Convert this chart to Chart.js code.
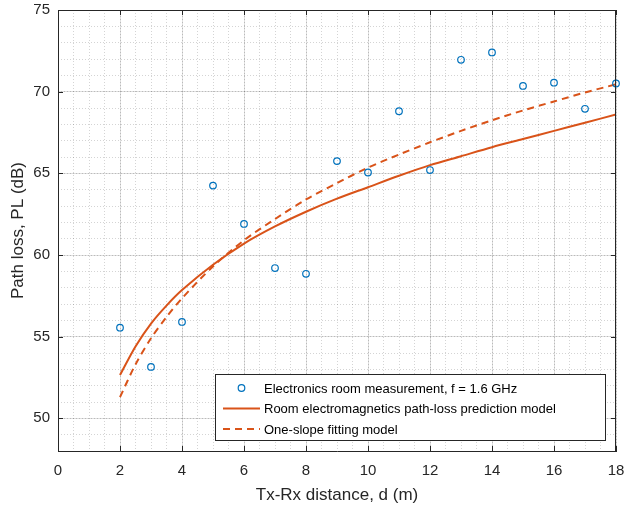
<!DOCTYPE html>
<html>
<head>
<meta charset="utf-8">
<script src="https://cdn.jsdelivr.net/npm/chart.js@4.4.1/dist/chart.umd.min.js"></script>
<style>
  body { margin: 0; background: #fff; }
  #wrap { width: 627px; height: 510px; }
</style>
</head>
<body>
<div id="wrap"><canvas id="plChart" width="627" height="510"></canvas></div>
<script>
// measured path loss, one point per metre
const measD = [2, 3, 4, 5, 6, 7, 8, 9, 10, 11, 12, 13, 14, 15, 16, 17, 18];
const measPL = [55.55, 53.15, 55.9, 64.25, 61.9, 59.2, 58.85, 65.75, 65.05, 68.8, 65.2, 71.95, 72.4, 70.35, 70.55, 68.95, 70.5];

// room electromagnetics prediction model (solid)
const roomD = [2, 2.5, 3, 3.5, 4, 5, 6, 7, 8, 9, 10, 11, 12, 13, 14, 15, 16, 17, 18];
const roomPL = [52.65, 54.4, 55.8, 56.9, 57.85, 59.4, 60.7, 61.75, 62.65, 63.45, 64.15, 64.85, 65.5, 66.05, 66.6, 67.1, 67.6, 68.1, 68.6];

// one-slope fitting model (dashed)
const fitD = [2, 2.5, 3, 3.5, 4, 5, 6, 7, 8, 9, 10, 11, 12, 13, 14, 15, 16, 17, 18];
const fitPL = [51.3, 53.3, 54.9, 56.2, 57.35, 59.3, 60.9, 62.2, 63.4, 64.4, 65.35, 66.15, 66.9, 67.6, 68.25, 68.85, 69.4, 69.95, 70.45];

const seriesLabels = [
  "Electronics room measurement, f = 1.6 GHz",
  "Room electromagnetics path-loss prediction model",
  "One-slope fitting model"
];
const xTitle = "Tx-Rx distance, d (m)";
const yTitle = "Path loss, PL (dB)";

const BLUE = "#0072BD";
const ORANGE = "#D95319";
const AXIS = "#262626";
const FONT = "'Liberation Sans', Arial, sans-serif";

const toXY = (xs, ys) => xs.map((x, i) => ({ x: x, y: ys[i] }));

// no extra room for tick label overhang, the plot box is placed by layout padding
const noOverhang = s => {
  s.paddingTop = 0; s.paddingBottom = 0; s.paddingLeft = 0; s.paddingRight = 0;
};

// top/right box lines and inward tick marks, like a matlab axes box
const boxPlugin = {
  id: "box",
  afterDraw(chart) {
    const { ctx, chartArea: a, scales } = chart;
    ctx.save();
    ctx.strokeStyle = AXIS;
    ctx.lineWidth = 1;
    ctx.beginPath();
    ctx.moveTo(a.left, a.top + 0.5);
    ctx.lineTo(a.right, a.top + 0.5);
    ctx.moveTo(a.right - 0.5, a.top);
    ctx.lineTo(a.right - 0.5, a.bottom);
    const len = 5;
    scales.x.ticks.forEach(t => {
      const px = Math.round(scales.x.getPixelForValue(t.value)) + 0.5;
      ctx.moveTo(px, a.bottom); ctx.lineTo(px, a.bottom - len);
      ctx.moveTo(px, a.top); ctx.lineTo(px, a.top + len);
    });
    scales.y.ticks.forEach(t => {
      const py = Math.round(scales.y.getPixelForValue(t.value)) + 0.5;
      ctx.moveTo(a.left, py); ctx.lineTo(a.left + len, py);
      ctx.moveTo(a.right, py); ctx.lineTo(a.right - len, py);
    });
    ctx.stroke();
    ctx.restore();
  }
};

// legend box drawn inside the plot, lower right
const legendPlugin = {
  id: "insideLegend",
  afterDraw(chart) {
    const { ctx } = chart;
    const bx = 215, by = 374, bw = 390, bh = 66;
    ctx.save();
    ctx.fillStyle = "#fff";
    ctx.fillRect(bx, by, bw, bh);
    ctx.strokeStyle = AXIS;
    ctx.lineWidth = 1;
    ctx.strokeRect(bx + 0.5, by + 0.5, bw, bh);
    ctx.font = "13px " + FONT;
    ctx.textBaseline = "middle";
    const rows = [388, 408.5, 429];
    chart.data.datasets.forEach((ds, i) => {
      const y = rows[i];
      if (i === 0) {
        ctx.strokeStyle = BLUE;
        ctx.lineWidth = 1.2;
        ctx.beginPath();
        ctx.arc(241.5, y, 3.3, 0, Math.PI * 2);
        ctx.stroke();
      } else {
        ctx.strokeStyle = ORANGE;
        ctx.lineWidth = 2;
        ctx.setLineDash(ds.borderDash || []);
        ctx.beginPath();
        ctx.moveTo(223, y);
        ctx.lineTo(260, y);
        ctx.stroke();
        ctx.setLineDash([]);
      }
      ctx.fillStyle = "#000";
      ctx.fillText(ds.label, 264, y + 1);
    });
    ctx.restore();
  }
};

new Chart(document.getElementById("plChart"), {
  type: "scatter",
  data: {
    datasets: [
      {
        label: seriesLabels[0],
        data: toXY(measD, measPL),
        showLine: false,
        pointStyle: "circle",
        pointRadius: 3.3,
        pointBorderWidth: 1.2,
        pointBorderColor: BLUE,
        pointBackgroundColor: "rgba(0,0,0,0)",
        clip: false,
        order: 0
      },
      {
        label: seriesLabels[1],
        data: toXY(roomD, roomPL),
        showLine: true,
        borderColor: ORANGE,
        borderWidth: 2,
        pointRadius: 0,
        tension: 0.3,
        order: 1
      },
      {
        label: seriesLabels[2],
        data: toXY(fitD, fitPL),
        showLine: true,
        borderColor: ORANGE,
        borderWidth: 2,
        borderDash: [7, 5],
        pointRadius: 0,
        tension: 0.3,
        order: 2
      }
    ]
  },
  options: {
    responsive: false,
    animation: false,
    layout: { padding: { top: 10, right: 11, left: 0, bottom: 0 } },
    plugins: {
      legend: { display: false },
      tooltip: { enabled: false }
    },
    scales: {
      xMinor: {
        type: "linear", position: "bottom", min: 0, max: 18,
        ticks: { display: false, stepSize: 0.5 },
        grid: { color: "rgba(38,38,38,0.2)", drawTicks: false },
        border: { display: false, dash: [1, 2] },
        afterFit: s => { s.height = 0; noOverhang(s); }
      },
      yMinor: {
        type: "linear", position: "left", min: 48, max: 75,
        ticks: { display: false, stepSize: 1 },
        grid: { color: "rgba(38,38,38,0.2)", drawTicks: false },
        border: { display: false, dash: [1, 2] },
        afterFit: s => { s.width = 0; noOverhang(s); }
      },
      x: {
        type: "linear", position: "bottom", min: 0, max: 18,
        ticks: { stepSize: 2, color: AXIS, padding: 11, font: { family: FONT, size: 15 } },
        grid: { color: "rgba(38,38,38,0.15)", drawTicks: false },
        border: { color: AXIS, width: 1 },
        title: { display: true, text: xTitle, color: AXIS, font: { family: FONT, size: 17 }, padding: { top: 7 } },
        afterFit: s => { s.height = 59; noOverhang(s); }
      },
      y: {
        type: "linear", position: "left", min: 48, max: 75,
        ticks: { stepSize: 5, color: AXIS, padding: 8, font: { family: FONT, size: 15 } },
        afterBuildTicks: s => { s.ticks = s.ticks.filter(t => t.value % 5 === 0); },
        grid: { color: "rgba(38,38,38,0.15)", drawTicks: false },
        border: { color: AXIS, width: 1 },
        title: { display: true, text: yTitle, color: AXIS, font: { family: FONT, size: 17 }, padding: { top: 8, bottom: 0 } },
        afterFit: s => { s.width = 58; noOverhang(s); }
      }
    }
  },
  plugins: [boxPlugin, legendPlugin]
});
</script>
</body>
</html>
